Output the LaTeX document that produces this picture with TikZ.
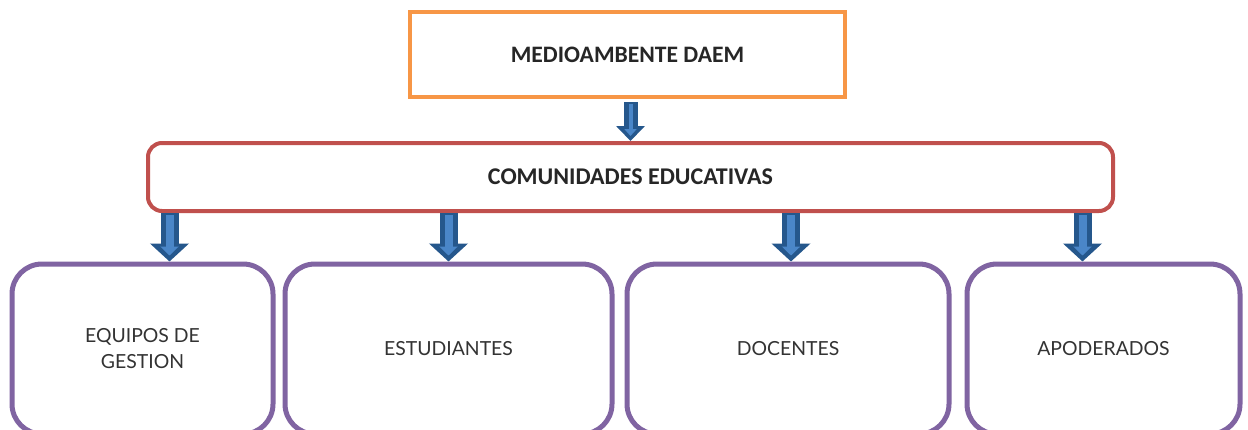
\documentclass[tikz,border=0pt]{standalone}
\usepackage{fontspec}
\usepackage{xcolor}
\usetikzlibrary{arrows.meta,positioning}
\newfontfamily\headfont{Carlito}
\newfontfamily\boxfont{Lato}
\definecolor{daemorange}{HTML}{F79646}
\definecolor{comred}{HTML}{C0504D}
\definecolor{grppurple}{HTML}{8064A2}
\definecolor{arrdark}{HTML}{25578C}
\definecolor{arrlight}{HTML}{4A86C8}
\tikzset{
  topbox/.style={draw=daemorange,line width=2pt,minimum width=217.5pt,minimum height=42.5pt,
    font=\headfont\bfseries\fontsize{11.8}{14}\selectfont,text=black!85},
  midbox/.style={draw=comred,line width=2pt,rounded corners=7pt,minimum width=482.5pt,minimum height=34pt,
    font=\headfont\bfseries\fontsize{12}{14}\selectfont,text=black!85},
  grpbox/.style={draw=grppurple,line width=2.5pt,rounded corners=15pt,minimum height=85pt,
    align=center,font=\boxfont\fontsize{9.7}{13}\selectfont,text=black!80},
}
\begin{document}
\begin{tikzpicture}[x=0.5pt,y=-0.5pt]
  \clip (0,0) rectangle (1248,429);
  \fill[white] (0,0) rectangle (1248,429);
  % boxes
  \node[topbox] (daem) at (627.5,54.5) {MEDIOAMBENTE DAEM};
  \node[midbox] (com) at (630.5,177) {COMUNIDADES EDUCATIVAS};
  \node[grpbox,minimum width=130.5pt] (eq) at (142.5,349) {EQUIPOS DE\\GESTION};
  \node[grpbox,minimum width=163.5pt] (est) at (448.5,349) {ESTUDIANTES};
  \node[grpbox,minimum width=161pt] (doc) at (788,349) {DOCENTES};
  \node[grpbox,minimum width=136.5pt] (apo) at (1103.5,349) {APODERADOS};
  % arrows
  \draw[arrdark,line width=7pt,-{Triangle[width=14pt,length=7.5pt]}] ([yshift=-1.5pt]daem.south -| com.north) -- (com.north);
  \draw[arrlight,line width=2pt,-{Triangle[width=6pt,length=3.5pt]}] ([yshift=-2.5pt]daem.south -| com.north) -- ([yshift=2.5pt]com.north);
  \foreach \b/\dx in {eq/27,est/0,doc/3,apo/-21}{
    \draw[arrdark,line width=9pt,-{Triangle[width=19pt,length=9pt]}] ([xshift=\dx*0.5pt]\b.north |- com.south) -- ([xshift=\dx*0.5pt]\b.north);
    \draw[arrlight,line width=4pt,-{Triangle[width=9pt,length=4.5pt]}] ([xshift=\dx*0.5pt,yshift=-1pt]\b.north |- com.south) -- ([xshift=\dx*0.5pt,yshift=3pt]\b.north);
  }
\end{tikzpicture}
\end{document}
